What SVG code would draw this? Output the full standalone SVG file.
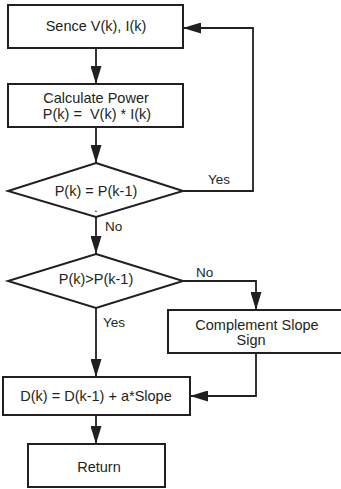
<svg xmlns="http://www.w3.org/2000/svg" width="341" height="489" viewBox="0 0 341 489">
  <defs>
    <marker id="arrow" viewBox="0 0 18 11" refX="18" refY="5.5" markerWidth="18" markerHeight="11" markerUnits="userSpaceOnUse" orient="auto">
      <path d="M0,0 L18,5.5 L0,11 Z" fill="#231f20"/>
    </marker>
    <style>
      .shape { fill: #ffffff; stroke: #231f20; stroke-width: 2; }
      .link { fill: none; stroke: #231f20; stroke-width: 1.8; }
      .label { font-family: "Liberation Sans", Arial, sans-serif; font-size: 14.5px; fill: #231f20; text-anchor: middle; }
      .tag { font-family: "Liberation Sans", Arial, sans-serif; font-size: 13.5px; fill: #231f20; }
    </style>
  </defs>
  <rect width="341" height="489" fill="#ffffff"/>

  <!-- connectors -->
  <g id="connectors">
    <path class="link" d="M96,48 V84" marker-end="url(#arrow)"/>
    <path class="link" d="M96,127 V163" marker-end="url(#arrow)"/>
    <path class="link" d="M183,191 H253 V28 H183" marker-end="url(#arrow)"/>
    <path class="link" d="M96,217 V254" marker-end="url(#arrow)"/>
    <path class="link" d="M183,281 H256 V310" marker-end="url(#arrow)"/>
    <path class="link" d="M96,308 V377" marker-end="url(#arrow)"/>
    <path class="link" d="M256,353 V396 H190" marker-end="url(#arrow)"/>
    <path class="link" d="M96,415 V444" marker-end="url(#arrow)"/>
    <text class="tag" x="208" y="184">Yes</text>
    <text class="tag" x="105" y="231">No</text>
    <text class="tag" x="196" y="277">No</text>
    <text class="tag" x="103" y="327">Yes</text>
  </g>

  <!-- sense -->
  <g id="sense">
    <rect class="shape" x="8" y="5" width="175" height="43"/>
    <text class="label" x="96" y="31">Sence V(k), I(k)</text>
  </g>

  <!-- power -->
  <g id="power">
    <rect class="shape" x="8" y="84" width="175" height="43"/>
    <text class="label" x="96" y="103">Calculate Power</text>
    <text class="label" x="97" y="119" xml:space="preserve">P(k) =  V(k) * I(k)</text>
  </g>

  <!-- equal test -->
  <g id="equal">
    <polygon class="shape" points="96,163 183,191 96,217 8,191"/>
    <text class="label" x="96" y="196">P(k) = P(k-1)</text>
    <text class="tag" x="96" y="212" text-anchor="middle" font-size="9">.</text>
  </g>

  <!-- greater test -->
  <g id="greater">
    <polygon class="shape" points="96,254 183,281 96,308 8,281"/>
    <text class="label" x="96" y="284">P(k)&gt;P(k-1)</text>
  </g>

  <!-- complement -->
  <g id="complement">
    <rect class="shape" x="168" y="310" width="180" height="43"/>
    <text class="label" x="257" y="330">Complement Slope</text>
    <text class="label" x="251" y="345">Sign</text>
  </g>

  <!-- duty update -->
  <g id="update">
    <rect class="shape" x="3" y="377" width="187" height="38"/>
    <text class="label" x="96" y="401">D(k) = D(k-1) + a*Slope</text>
  </g>

  <!-- return -->
  <g id="return">
    <rect class="shape" x="28" y="444" width="137" height="43"/>
    <text class="label" x="99" y="472">Return</text>
  </g>
</svg>
